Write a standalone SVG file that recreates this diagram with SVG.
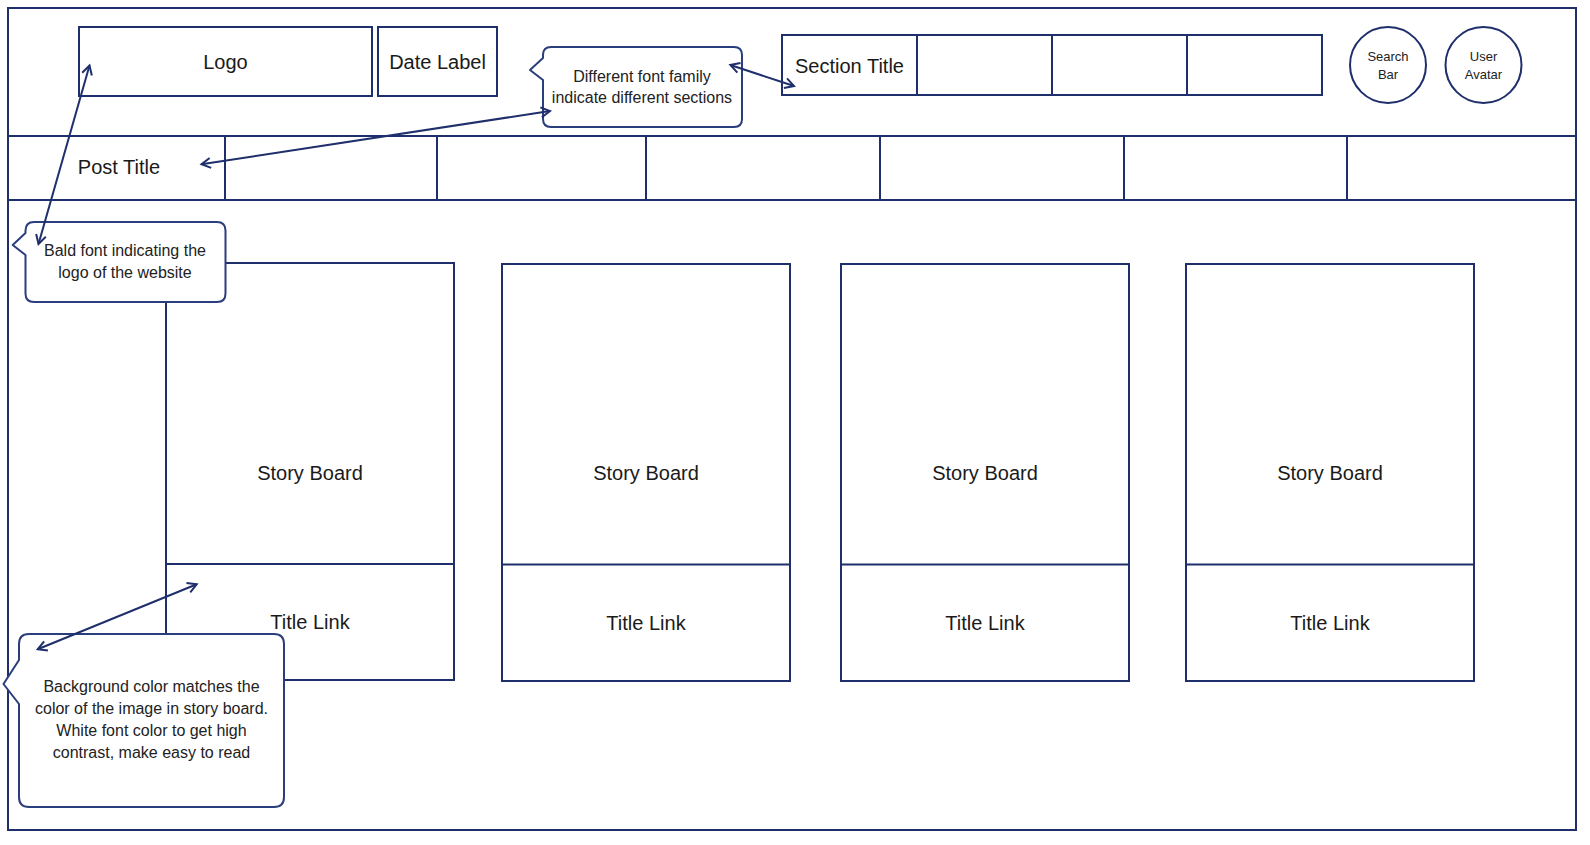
<svg xmlns="http://www.w3.org/2000/svg" width="1590" height="845" viewBox="0 0 1590 845">
<style>
.b{fill:#fff;stroke:#1f2f6b;stroke-width:2}
.ln{fill:none;stroke:#1f2f6b;stroke-width:2}
.co{fill:#fff;stroke:#2a3d7c;stroke-width:2;stroke-linejoin:round}
.t{font-family:"Liberation Sans",Arial,sans-serif;font-size:20px;fill:#1a1a1a;text-anchor:middle}
.s{font-family:"Liberation Sans",Arial,sans-serif;font-size:16px;fill:#222;text-anchor:middle}
.c{font-family:"Liberation Sans",Arial,sans-serif;font-size:13px;fill:#222;text-anchor:middle}
.a{fill:none;stroke:#1f2f6b;stroke-width:2;marker-start:url(#ar);marker-end:url(#ar)}
</style>
<defs>
<marker id="ar" viewBox="-12 -8 14 16" markerWidth="14" markerHeight="16" refX="0" refY="0" orient="auto-start-reverse" markerUnits="userSpaceOnUse">
<path d="M-9,-5 L0,0 L-9,5" fill="none" stroke="#1f2f6b" stroke-width="2"/>
</marker>
</defs>
<rect width="1590" height="845" fill="#fff"/>
<g id="frame">
<rect class="b" x="8" y="8" width="1568" height="822"/>
<line class="ln" x1="8" y1="136" x2="1576" y2="136"/>
<line class="ln" x1="8" y1="200" x2="1576" y2="200"/>
</g>
<g id="logo"><rect class="b" x="79" y="27" width="293" height="69"/><text class="t" x="225.5" y="69">Logo</text></g>
<g id="date-label"><rect class="b" x="378" y="27" width="119" height="69"/><text class="t" x="437.5" y="69">Date Label</text></g>
<g id="section-nav">
<rect class="b" x="782" y="35" width="540" height="60"/>
<line class="ln" x1="917" y1="35" x2="917" y2="95"/>
<line class="ln" x1="1052" y1="35" x2="1052" y2="95"/>
<line class="ln" x1="1187" y1="35" x2="1187" y2="95"/>
<text class="t" x="849.5" y="72.5">Section Title</text>
</g>
<g id="search-bar"><circle class="b" cx="1388" cy="65" r="38"/><text class="c" x="1388" y="61">Search</text><text class="c" x="1388" y="78.5">Bar</text></g>
<g id="user-avatar"><circle class="b" cx="1483.5" cy="65" r="38"/><text class="c" x="1483.5" y="61">User</text><text class="c" x="1483.5" y="78.5">Avatar</text></g>
<g id="post-row">
<line class="ln" x1="225" y1="136" x2="225" y2="200"/>
<line class="ln" x1="437" y1="136" x2="437" y2="200"/>
<line class="ln" x1="646" y1="136" x2="646" y2="200"/>
<line class="ln" x1="880" y1="136" x2="880" y2="200"/>
<line class="ln" x1="1124" y1="136" x2="1124" y2="200"/>
<line class="ln" x1="1347" y1="136" x2="1347" y2="200"/>
<text class="t" x="119" y="173.5">Post Title</text>
</g>
<g id="story-1"><rect class="b" x="166" y="263" width="288" height="417"/><line class="ln" x1="166" y1="564" x2="454" y2="564"/><text class="t" x="310" y="479.5">Story Board</text><text class="t" x="310" y="629">Title Link</text></g>
<g id="story-2"><rect class="b" x="502" y="264" width="288" height="417"/><line class="ln" x1="502" y1="564.5" x2="790" y2="564.5"/><text class="t" x="646" y="479.5">Story Board</text><text class="t" x="646" y="629.5">Title Link</text></g>
<g id="story-3"><rect class="b" x="841" y="264" width="288" height="417"/><line class="ln" x1="841" y1="564.5" x2="1129" y2="564.5"/><text class="t" x="985" y="479.5">Story Board</text><text class="t" x="985" y="629.5">Title Link</text></g>
<g id="story-4"><rect class="b" x="1186" y="264" width="288" height="417"/><line class="ln" x1="1186" y1="564.5" x2="1474" y2="564.5"/><text class="t" x="1330" y="479.5">Story Board</text><text class="t" x="1330" y="629.5">Title Link</text></g>
<g id="callout-font-family">
<path class="co" d="M551,47 H734 Q742,47 742,55 V119 Q742,127 734,127 H551 Q543,127 543,119 V80 L530,70 L543,58 V55 Q543,47 551,47 Z"/>
<text class="s" x="642" y="81.5">Different font family</text>
<text class="s" x="642" y="103">indicate different sections</text>
</g>
<g id="callout-bald">
<path class="co" d="M34,222 H217 Q225.5,222 225.5,230.5 V293.5 Q225.5,302 217,302 H34 Q25.5,302 25.5,293.5 V255 L12.7,245 L25.5,233 V230.5 Q25.5,222 34,222 Z"/>
<text class="s" x="125" y="256">Bald font indicating the</text>
<text class="s" x="125" y="278">logo of the website</text>
</g>
<g id="callout-background">
<path class="co" d="M29,634 H274 Q284,634 284,644 V797 Q284,807 274,807 H29 Q19,807 19,797 V704 L3.5,684 L19,660 V644 Q19,634 29,634 Z"/>
<text class="s" x="151.5" y="692">Background color matches the</text>
<text class="s" x="151.5" y="714">color of the image in story board.</text>
<text class="s" x="151.5" y="736">White font color to get high</text>
<text class="s" x="151.5" y="758">contrast, make easy to read</text>
</g>
<g id="connectors">
<line class="a" x1="89.5" y1="65.5" x2="38.5" y2="244"/>
<line class="a" x1="201.5" y1="164.3" x2="550" y2="111"/>
<line class="a" x1="730.4" y1="65" x2="794" y2="86"/>
<line class="a" x1="37.7" y1="649.3" x2="196.7" y2="584.3"/>
</g>
</svg>
